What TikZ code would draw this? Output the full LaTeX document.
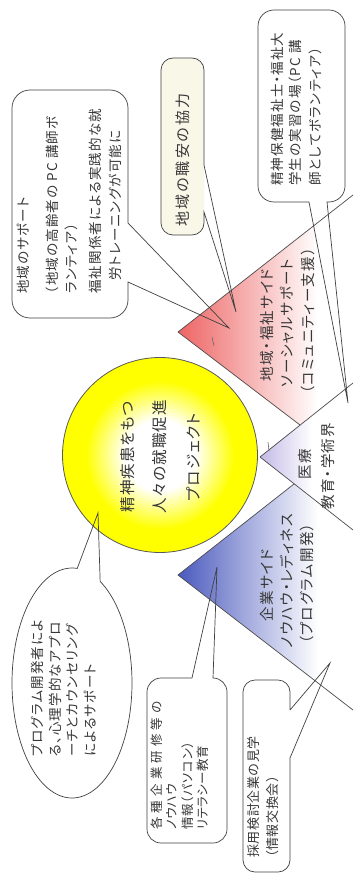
\documentclass[tikz,border=0pt]{standalone}
\usepackage{fontspec}
\newfontfamily\jpfont{Noto Sans CJK JP}[RawFeature=+palt]
\newcommand\jpsz[2]{\jpfont\fontsize{#1}{#1}\selectfont\addfontfeature{LetterSpace=#2}}
\definecolor{redv}{RGB}{238,100,100}
\definecolor{lavv}{RGB}{195,185,230}
\definecolor{bluev}{RGB}{75,90,190}
\definecolor{cream}{RGB}{248,247,232}
\definecolor{txtc}{RGB}{55,55,55}
\pgfdeclareradialshading{sunny}{\pgfpoint{0bp}{0bp}}{color(0bp)=(white); color(9bp)=(white); color(19bp)=(yellow); color(25bp)=(yellow); color(50bp)=(yellow)}
\begin{document}
\begin{tikzpicture}[x=1pt,y=-1pt,
  txt/.style={rotate=90, inner sep=0pt, text=txtc},
  lt/.style={txt, anchor=west},
  ct/.style={txt, anchor=center},
  edge/.style={draw=black!70, line width=0.7pt},
  callout/.style={draw=black!75, line width=0.7pt},
  callfont/.style={font={\jpsz{13.5}{8.5}}},
  wedgefont/.style={font={\jpsz{14.5}{9}}}]
\useasboundingbox (0,0) rectangle (353,877);
\fill[white] (0,0) rectangle (353,877);
% wedge geometry
\coordinate (A) at (178,332);
\coordinate (B) at (300,425);
\coordinate (E) at (353,195);
\coordinate (M) at (260,457);
\coordinate (F) at (353,383);
\coordinate (G) at (353,530);
\coordinate (C) at (294,484);
\coordinate (D) at (178,575);
\coordinate (H) at (353,710);
\begin{scope}
  \clip (A) -- (E) -- (F) -- (B) -- cycle;
  \shade[left color=redv, right color=white] (178,190) rectangle (318,430);
\end{scope}
\begin{scope}
  \clip (M) -- (F) -- (G) -- cycle;
  \shade[left color=lavv, right color=white] (260,380) rectangle (312,535);
\end{scope}
\begin{scope}
  \clip (D) -- (C) -- (G) -- (H) -- cycle;
  \shade[left color=bluev, right color=white] (178,480) rectangle (318,715);
\end{scope}
\draw[edge] (E) -- (A) -- (B);
\draw[edge] (M) -- (F);
\draw[edge] (M) -- (G);
\draw[edge] (C) -- (D) -- (H);
\draw[black!60, line width=0.6pt] (212,337) -- (214,346);
\draw[black!60, line width=0.6pt] (268,442) -- (269,451);
% wedge labels
\node[ct, wedgefont] (r1) at (267,325) {地域・福祉サイド};
\node[ct, wedgefont] (r2) at (287,323) {ソーシャルサポート};
\node[ct, wedgefont] (r3) at (308,321) {（コミュニティー支援）};
\node[ct, wedgefont] (m1) at (305,464) {医療};
\node[ct, wedgefont] (m2) at (328,466) {教育・学術界};
\node[ct, wedgefont] (b1) at (267,585) {企業サイド};
\node[ct, wedgefont] (b2) at (287,581) {ノウハウ・レディネス};
\node[ct, wedgefont] (b3) at (307,584) {（プログラム開発）};
% central circle
\node[circle, shading=sunny, draw=black!65, line width=0.8pt, minimum size=195pt, inner sep=0pt] (core) at (160,455) {};
\node[ct, font={\jpsz{15.5}{6.5}}] (p1) at (128,457) {精神疾患をもつ};
\node[ct, font={\jpsz{15.5}{6.5}}] (p2) at (160,457) {人々の就職促進};
\node[ct, font={\jpsz{15.5}{6.5}}] (p3) at (193,457) {プロジェクト};
% callout 1
\coordinate (c1a) at (128,223);
\coordinate (c1b) at (128,282);
\coordinate (t1) at (229,328);
\draw[callout] (c1a) -- (t1) -- (c1b) [rounded corners=18pt] -- (128,318) -- (12,318) -- (12,90) -- (128,90) [sharp corners] -- (c1a);
\node[lt, callfont] (k1) at (23,294) {地域のサポート};
\node[lt, callfont] (k2) at (52,294) {（地域の高齢者の PC 講師ボ};
\node[lt, callfont] (k3) at (71,294) {ランティア）};
\node[lt, callfont] (k4) at (95,294) {福祉関係者による実践的な就};
\node[lt, callfont] (k5) at (115,281) {労トレーニングが可能に};
% callout 2
\coordinate (c2a) at (204,165);
\coordinate (c2b) at (204,212);
\coordinate (t2) at (236,312);
\fill[cream, rounded corners=12pt] (161,58) rectangle (204,235);
\draw[callout] (c2a) -- (t2) -- (c2b) [rounded corners=12pt] -- (204,235) -- (161,235) -- (161,58) -- (204,58) [sharp corners] -- (c2a);
\node[ct, font={\jpsz{15}{14}}] (s1) at (183,160) {地域の職安の協力};
% callout 4
\coordinate (c4a) at (309,202);
\coordinate (c4b) at (327,202);
\coordinate (t4) at (348,403);
\draw[callout] (c4a) -- (t4) -- (c4b) [rounded corners=16pt] -- (345,202) -- (345,10) -- (258,10) -- (258,202) [sharp corners] -- (c4a);
\node[lt, callfont] (v1) at (277,186) {精神保健福祉士・福祉大};
\node[lt, callfont] (v2) at (295,186) {学生の実習の場（PC 講};
\node[lt, callfont] (v3) at (315,186) {師としてボランティア）};
% callout 5 (ellipse)
\coordinate (t5) at (98,513);
\draw[callout] plot[domain=-62:275, samples=120, smooth] ({72+60*cos(\x)},{683+115*sin(\x)}) -- (t5) -- cycle;
\node[lt, callfont] (e1) at (37,757) {プログラム開発者によ};
\node[lt, callfont] (e2) at (55,757) {る、心理学的なアプロ};
\node[lt, callfont] (e3) at (72,757) {ーチとカウンセリング};
\node[lt, callfont] (e4) at (90,757) {によるサポート};
% callout 6
\coordinate (c6a) at (192,678);
\coordinate (c6b) at (213,678);
\coordinate (t6) at (217,567);
\draw[callout] (c6a) -- (t6) -- (c6b) [rounded corners=14pt] -- (227,678) -- (227,843) -- (147,843) -- (147,678) [sharp corners] -- (c6a);
\node[lt, font={\jpsz{12.5}{33}}] (w1) at (157,830) {各種企業研修等の};
\node[lt, font={\jpsz{12.5}{4}}] (w2) at (172,830) {ノウハウ};
\node[lt, font={\jpsz{12.5}{6}}] (w3) at (188,830) {情報（パソコン）};
\node[lt, font={\jpsz{12.5}{4}}] (w4) at (203,830) {リテラシー教育};
% callout 7
\coordinate (c7a) at (290,710);
\coordinate (c7b) at (290,758);
\coordinate (t7) at (330,663);
\draw[callout] (c7a) -- (t7) -- (c7b) [rounded corners=12pt] -- (290,872) -- (243,872) -- (243,680) -- (290,680) [sharp corners] -- (c7a);
\node[lt, font={\jpsz{13}{5}}] (x1) at (254,858) {採用検討企業の見学};
\node[lt, font={\jpsz{13}{5}}] (x2) at (273,858) {（情報交換会）};
\end{tikzpicture}
\end{document}
